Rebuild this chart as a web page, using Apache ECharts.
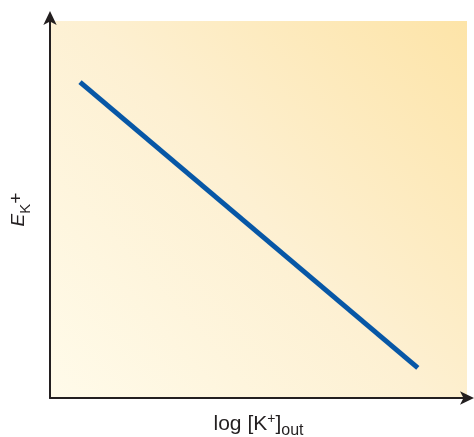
<!DOCTYPE html>
<html><head><meta charset="utf-8">
<script src="https://cdn.jsdelivr.net/npm/echarts@6/dist/echarts.min.js"></script>
<style>html,body{margin:0;padding:0;background:#fff}#c{width:474px;height:437px}</style>
</head><body><div id="c"></div>
<script>
const xValues = [7.2, 88.2];
const yValues = [83.8, 8.0];
const xTitle = 'log [K+]out';
const yTitle = 'EK+';

const chart = echarts.init(document.getElementById('c'), null, {renderer: 'canvas'});
const font = 'Liberation Sans, Arial, sans-serif';
chart.setOption({
  animation: false,
  grid: {
    left: 50, right: 7, top: 21, bottom: 39, show: true, borderWidth: 0,
    containLabel: false, outerBoundsMode: 'none',
    backgroundColor: new echarts.graphic.LinearGradient(0, 1, 1, 0, [
      {offset: 0, color: '#fffbea'},
      {offset: 0.5, color: '#fdf0d2'},
      {offset: 1, color: '#fde4a8'}
    ])
  },
  xAxis: {
    type: 'value', min: 0, max: 100,
    axisLine: {show: true, lineStyle: {color: '#231f20', width: 2},
      symbol: ['none', 'arrow'], symbolSize: [10, 14], symbolOffset: [0, 7]},
    axisTick: {show: false}, axisLabel: {show: false}, splitLine: {show: false},
    name: '{a|log [K}{sup|+}{a|]}{sub|out}', nameLocation: 'middle', nameGap: 11,
    nameTextStyle: {
      rich: {
        a: {fontFamily: font, fontSize: 21, color: '#231f20', lineHeight: 30, verticalAlign: 'middle'},
        sup: {fontFamily: font, fontSize: 14, color: '#231f20', verticalAlign: 'top', lineHeight: 30, padding: [3, 0, 0, 0]},
        sub: {fontFamily: font, fontSize: 16, color: '#231f20', verticalAlign: 'bottom', lineHeight: 30}
      }
    }
  },
  yAxis: {
    type: 'value', min: 0, max: 100,
    axisLine: {show: true, lineStyle: {color: '#231f20', width: 2},
      symbol: ['none', 'arrow'], symbolSize: [10, 14], symbolOffset: [0, 10]},
    axisTick: {show: false}, axisLabel: {show: false}, splitLine: {show: false},
    name: '{e|E}{sub|K}{sup|+}', nameLocation: 'middle', nameGap: 17, nameRotate: 90,
    nameTextStyle: {
      rich: {
        e: {fontFamily: font, fontSize: 19, fontStyle: 'italic', color: '#231f20', lineHeight: 28, verticalAlign: 'middle'},
        sub: {fontFamily: font, fontSize: 15, color: '#231f20', verticalAlign: 'bottom', lineHeight: 28},
        sup: {fontFamily: font, fontSize: 19, color: '#231f20', verticalAlign: 'top', lineHeight: 28, padding: [2, 0, 0, 0]}
      }
    }
  },
  series: [{
    type: 'line',
    data: xValues.map((x, i) => [x, yValues[i]]),
    showSymbol: false,
    lineStyle: {color: '#0757a6', width: 5, cap: 'butt'}
  }]
});
</script></body></html>
